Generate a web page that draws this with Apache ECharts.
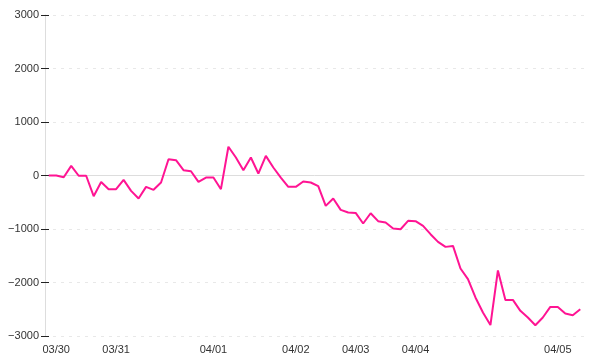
<!DOCTYPE html>
<html>
<head>
<meta charset="utf-8">
<script src="https://cdn.jsdelivr.net/npm/echarts@6/dist/echarts.min.js"></script>
<style>html,body{margin:0;padding:0;background:#fff}#c{width:600px;height:360px}</style>
</head>
<body>
<div id="c"></div>
<script>
// One label per category; '' = no label shown
var tickLabels = [
  '', '03/30', '', '', '', '', '', '', '', '03/31',
  '', '', '', '', '', '', '', '', '', '',
  '', '', '04/01', '', '', '', '', '', '', '',
  '', '', '', '04/02', '', '', '', '', '', '',
  '', '04/03', '', '', '', '', '', '', '', '04/04',
  '', '', '', '', '', '', '', '', '', '',
  '', '', '', '', '', '', '', '', '04/05', '',
  '', ''
];
var values = [
  0, 0, -32, 180, -5, -5, -387, -120, -256, -256,
  -82, -287, -430, -212, -268, -131, 305, 286, 99, 80,
  -119, -38, -38, -256, 538, 336, 99, 336, 37, 367,
  150, -38, -212, -212, -113, -131, -200, -568, -430, -643,
  -692, -699, -897, -705, -854, -879, -991, -1004, -848, -854,
  -942, -1097, -1241, -1334, -1316, -1738, -1938, -2280, -2561, -2795,
  -1775, -2325, -2325, -2530, -2654, -2798, -2654, -2456, -2456, -2579,
  -2611, -2499
];
var yMin = -3000, yMax = 3000, yStep = 1000;

var categories = tickLabels.map(function (t, i) { return String(i); });
var chart = echarts.init(document.getElementById('c'));
var font = { fontFamily: 'Liberation Sans, Arial, sans-serif', fontSize: 11, color: '#333' };
chart.setOption({
  animation: false,
  grid: { left: 45, right: 16, top: 15, bottom: 24 },
  xAxis: [{
    type: 'category',
    data: categories,
    boundaryGap: true,
    axisLine: { show: false, onZero: false },
    axisTick: { show: false },
    splitLine: { show: false },
    axisLabel: Object.assign({
      margin: 8,
      interval: function (i) { return tickLabels[i] !== ''; },
      formatter: function (v, i) { return tickLabels[i]; }
    }, font)
  }, {
    type: 'category',
    data: categories,
    position: 'top',
    boundaryGap: true,
    axisLine: { show: true, onZero: true, lineStyle: { color: '#dddddd', width: 1 } },
    axisTick: { show: false },
    axisLabel: { show: false },
    splitLine: { show: false }
  }],
  yAxis: [{
    type: 'value',
    min: yMin, max: yMax, interval: yStep,
    axisLine: { show: true, lineStyle: { color: '#dddddd', width: 1 } },
    axisTick: { show: true, length: 4, lineStyle: { color: '#222' } },
    splitLine: { show: true, lineStyle: { color: '#e8e8e8', type: [3, 5] } },
    axisLabel: Object.assign({
      margin: 6,
      formatter: function (v) { return String(v).replace('-', '\u2212'); }
    }, font)
  }, {
    type: 'value',
    position: 'left',
    min: yMin, max: yMax, interval: yStep,
    axisLine: { show: false },
    axisTick: { show: true, inside: true, length: 4, lineStyle: { color: '#222' } },
    axisLabel: { show: false },
    splitLine: { show: false }
  }],
  series: [{
    type: 'line',
    data: values,
    xAxisIndex: 0,
    yAxisIndex: 0,
    showSymbol: false,
    symbol: 'none',
    lineStyle: { color: '#ff1493', width: 2 },
    itemStyle: { color: '#ff1493' }
  }]
});
</script>
</body>
</html>
